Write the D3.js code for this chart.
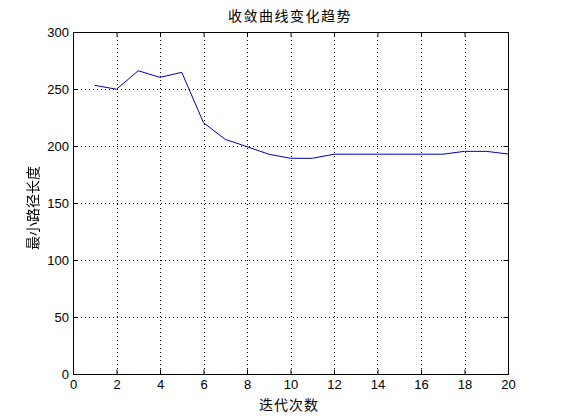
<!DOCTYPE html>
<html><head><meta charset="utf-8">
<script src="https://cdn.jsdelivr.net/npm/d3@7"></script>
<style>
html,body{margin:0;padding:0;background:#fff;}
svg{display:block;}
</style></head>
<body>
<script>
const iterations = [1,2,3,4,5,6,7,8,9,10,11,12,13,14,15,16,17,18,19,20];
const minLength = [253.2,249.8,266,260.2,264.6,220.4,205.8,199.4,192.8,189.2,189.2,192.8,192.8,192.8,192.8,192.8,192.8,195.3,195.3,193];
const xTicks = [0,2,4,6,8,10,12,14,16,18,20];
const yTicks = [0,50,100,150,200,250,300];
const titleText = "收敛曲线变化趋势";
const xLabel = "迭代次数";
const yLabel = "最小路径长度";

const W = 561, H = 420;
const L = 73, R = 508, T = 32, B = 374;
const svg = d3.select("body").append("svg").attr("width", W).attr("height", H);
svg.append("rect").attr("width", W).attr("height", H).attr("fill", "#fff");

const defs = svg.append("defs");
defs.append("filter").attr("id","gray").append("feColorMatrix").attr("type","saturate").attr("values","0");

const x = d3.scaleLinear().domain([0,20]).range([L,R]);
const y = d3.scaleLinear().domain([0,300]).range([B,T]);

const tickFont = "'Liberation Sans', Arial, sans-serif";
const cjkFont = "'Noto Sans CJK SC', sans-serif";

// grid
const grid = svg.append("g").attr("stroke","#000").attr("stroke-width",1).attr("stroke-dasharray","1,3");
xTicks.slice(1,-1).forEach(t => {
  grid.append("line").attr("x1",Math.round(x(t))+0.5).attr("x2",Math.round(x(t))+0.5).attr("y1",T).attr("y2",B);
});
yTicks.slice(1,-1).forEach(t => {
  grid.append("line").attr("y1",Math.round(y(t))+0.5).attr("y2",Math.round(y(t))+0.5).attr("x1",L).attr("x2",R);
});

// axes
const tl = 4.5;
const xAxisB = d3.axisBottom(x).tickValues(xTicks).tickSize(-tl).tickPadding(6).tickFormat(d3.format("d"));
const xAxisT = d3.axisTop(x).tickValues(xTicks).tickSize(-tl).tickFormat("");
const yAxisL = d3.axisLeft(y).tickValues(yTicks).tickSize(-tl).tickPadding(4).tickFormat(d3.format("d"));
const yAxisR = d3.axisRight(y).tickValues(yTicks).tickSize(-tl).tickFormat("");

function style(g){
  g.select(".domain").remove();
  g.selectAll("line").attr("stroke","#000");
  g.selectAll("text").attr("fill","#000").style("font-family",tickFont).style("font-size","13px");
}
svg.append("g").attr("transform",`translate(0,${B})`).call(xAxisB).call(style);
svg.append("g").attr("transform",`translate(0,${T})`).call(xAxisT).call(style);
svg.append("g").attr("transform",`translate(${L},0)`).call(yAxisL).call(style);
svg.append("g").attr("transform",`translate(${R},0)`).call(yAxisR).call(style);

svg.append("rect").attr("x",L+0.5).attr("y",T+0.5).attr("width",R-L).attr("height",B-T)
  .attr("fill","none").attr("stroke","#000").attr("stroke-width",1);

// line
const line = d3.line().x((d,i)=>x(iterations[i])).y(d=>y(d));
svg.append("path").datum(minLength).attr("d",line).attr("fill","none")
  .attr("stroke","#0000b4").attr("stroke-width",1);

// labels
svg.append("text").attr("x",290).attr("y",21).attr("text-anchor","middle").attr("fill","#000")
  .style("font-family",cjkFont).style("font-size","14px").style("letter-spacing","1.5px").text(titleText);
svg.append("text").attr("x",289).attr("y",410).attr("text-anchor","middle").attr("fill","#000")
  .style("font-family",cjkFont).style("font-size","14px").style("letter-spacing","1px").text(xLabel);
svg.append("g").attr("filter","url(#gray)").append("text").attr("transform","translate(38,208) rotate(-90)").attr("text-anchor","middle").attr("fill","#000")
  .style("font-family",cjkFont).style("font-size","14px").text(yLabel);
</script>
</body></html>
